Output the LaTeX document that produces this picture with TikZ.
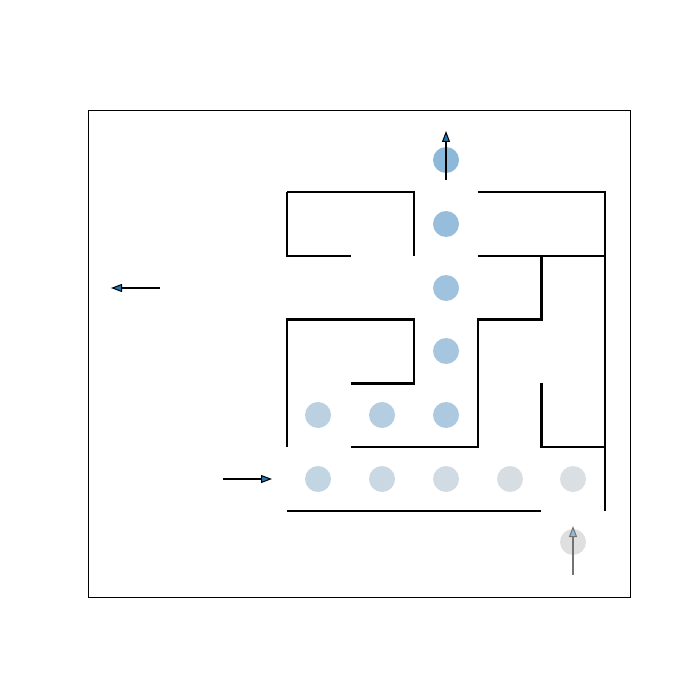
\documentclass[tikz,border=0pt]{standalone}
\usetikzlibrary{arrows.meta}
\definecolor{tabblue}{HTML}{1F77B4}
\definecolor{c1}{HTML}{DFDFE0}
\definecolor{c2}{HTML}{DADFE3}
\definecolor{c3}{HTML}{D6DDE3}
\definecolor{c4}{HTML}{D0DBE3}
\definecolor{c5}{HTML}{C9D8E3}
\definecolor{c6}{HTML}{C2D5E3}
\definecolor{c7}{HTML}{BBD1E2}
\definecolor{c8}{HTML}{B4CDE0}
\definecolor{c9}{HTML}{ADC9E0}
\definecolor{c10}{HTML}{A6C5DF}
\definecolor{c11}{HTML}{9FC2DE}
\definecolor{c12}{HTML}{96BDDC}
\definecolor{c13}{HTML}{8CB8DA}
\tikzset{
  dot/.style={circle,inner sep=0pt,minimum size=26pt,draw=none},
  wall/.style={line width=2.3pt,line cap=butt,line join=miter},
  frame/.style={line width=0.9pt},
  move/.style={line width=1.7pt,-{Triangle[length=11pt,width=8pt,line width=1pt,fill=tabblue]}},
  fadedmove/.style={line width=1.7pt,draw=black!55,-{Triangle[length=11pt,width=8pt,line width=1pt,fill=tabblue!50!white]}}
}
\begin{document}
\begin{tikzpicture}[x=1pt,y=-1pt]
\useasboundingbox (0,0) rectangle (700,700);
\draw[frame] (88,110) rectangle (630,597);
% visited cells
\node[dot,fill=c1]  (d1)  at (573,542) {};
\node[dot,fill=c2]  (d2)  at (573,479) {};
\node[dot,fill=c3]  (d3)  at (510,479) {};
\node[dot,fill=c4]  (d4)  at (446,479) {};
\node[dot,fill=c5]  (d5)  at (382,479) {};
\node[dot,fill=c6]  (d6)  at (318,479) {};
\node[dot,fill=c7]  (d7)  at (318,415) {};
\node[dot,fill=c8]  (d8)  at (382,415) {};
\node[dot,fill=c9]  (d9)  at (446,415) {};
\node[dot,fill=c10] (d10) at (446,351) {};
\node[dot,fill=c11] (d11) at (446,288) {};
\node[dot,fill=c12] (d12) at (446,224) {};
\node[dot,fill=c13] (d13) at (446,160) {};
% walls
\draw[wall] (287,192) -- (414.2,192) -- (414.2,255.8);
\draw[wall] (287,192) -- (287,255.8) -- (350.6,255.8);
\draw[wall] (477.8,192) -- (605,192) -- (605,511);
\draw[wall] (477.8,255.8) -- (605,255.8);
\draw[wall] (541.4,255.8) -- (541.4,319.6) -- (477.8,319.6) -- (477.8,447.2) -- (350.6,447.2);
\draw[wall] (287,447.2) -- (287,319.6) -- (414.2,319.6) -- (414.2,383.4) -- (350.6,383.4);
\draw[wall] (541.4,383.4) -- (541.4,447.2) -- (605,447.2);
\draw[wall] (287,511) -- (541.4,511);
% arrows
\coordinate (a1s) at (446,180); \coordinate (a1e) at (446,131);
\coordinate (a2s) at (160,288); \coordinate (a2e) at (111,288);
\coordinate (a3s) at (223,479); \coordinate (a3e) at (272,479);
\coordinate (a4s) at (573,575); \coordinate (a4e) at (573,526);
\draw[move] (a1s) -- (a1e);
\draw[move] (a2s) -- (a2e);
\draw[move] (a3s) -- (a3e);
\draw[fadedmove] (a4s) -- (a4e);
\end{tikzpicture}
\end{document}
